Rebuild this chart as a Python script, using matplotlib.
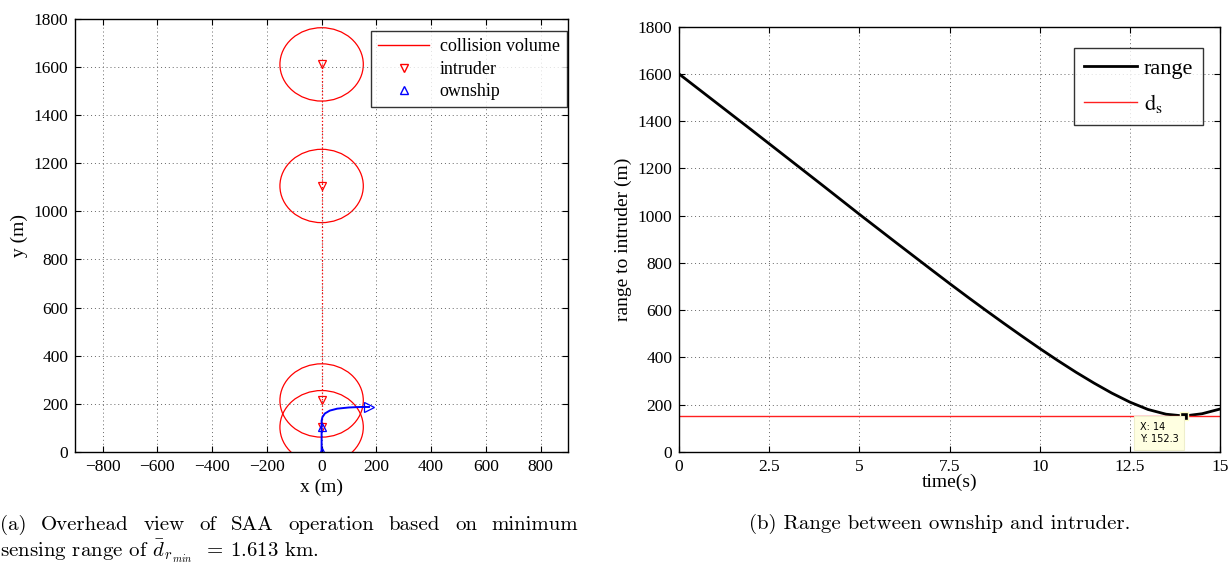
import matplotlib.pyplot as plt
from matplotlib.patches import Circle
from matplotlib.lines import Line2D

plt.rcParams['font.family'] = ['Liberation Serif', 'DejaVu Serif']
plt.rcParams['xtick.direction'] = 'in'
plt.rcParams['ytick.direction'] = 'in'

# --- (a) overhead view data ---
intruder_x = [0, 0, 0, 0]
intruder_y = [1610, 1105, 214, 103]
d_s = 152.3  # collision volume radius (m)

own_path_x = [0, 0, 0, 0, 3, 12, 30, 57, 100, 142, 173]
own_path_y = [0, 50, 103, 130, 145, 160, 172, 180, 185, 187, 187]
own_up_x = [0, 0]
own_up_y = [0, 103]
own_end_x = [173]
own_end_y = [187]

# --- (b) range vs time data ---
time_s = [0, 1, 2, 3, 4, 5, 6, 7, 7.5, 8, 8.5, 9, 9.5, 10, 10.5, 11, 11.5,
          12, 12.5, 13, 13.5, 14, 14.5, 15]
range_m = [1600, 1482, 1364, 1245, 1126, 1006, 888, 771, 713, 656, 600, 545,
           491, 438, 387, 338, 292, 249, 211, 180, 160, 152.3, 162, 182]
tip_x, tip_y = 14, 152.3

caption_a1 = '(a) Overhead view of SAA operation based on minimum'
caption_a2 = r'sensing range of $\bar{d}_{r_{\,min}}$  = 1.613 km.'
caption_b = '(b) Range between ownship and intruder.'

grid_kw = dict(linestyle=(0, (1, 3)), linewidth=0.7, color='0.4')


def matlab_axes(ax):
    ax.grid(True, **grid_kw)
    ax.tick_params(top=True, right=True, labelsize=12.5, length=4, width=0.8,
                   pad=5)
    for s in ax.spines.values():
        s.set_linewidth(1.0)


def justified_text(fig, text, x0, x1, y, **kw):
    # place words one by one so the line fills x0..x1 (figure fraction)
    words = text.split()
    r = fig.canvas.get_renderer()
    fw = fig.bbox.width
    items = []
    total = 0
    for w in words:
        t = fig.text(0, y, w, va='center', ha='left', **kw)
        width = t.get_window_extent(r).width / fw
        items.append((t, width))
        total += width
    gap = (x1 - x0 - total) / (len(words) - 1)
    x = x0
    for t, width in items:
        t.set_x(x)
        x += width + gap


fig = plt.figure(figsize=(12.28, 5.65), dpi=100)
ax1 = fig.add_axes([0.0613, 0.2, 0.4012, 0.767])
ax2 = fig.add_axes([0.553, 0.2, 0.4406, 0.7527])

# ---------- left panel ----------
for cx, cy in zip(intruder_x, intruder_y):
    ax1.add_patch(Circle((cx, cy), d_s, fill=False, ec='red', lw=0.9))
ax1.plot(intruder_x, intruder_y, ':', color='red', lw=0.9)
ax1.plot(intruder_x, intruder_y, 'v', mfc='none', mec='red', ms=6, mew=0.9)
ax1.plot(own_path_x, own_path_y, '-', color='blue', lw=1.4)
ax1.plot(own_up_x, own_up_y, '^', mfc='none', mec='blue', ms=6, mew=0.9)
ax1.plot(own_end_x, own_end_y, '>', mfc='none', mec='blue', ms=7, mew=0.9)

ax1.set_xlim(-900, 900)
ax1.set_ylim(0, 1800)
ax1.set_xticks(range(-800, 801, 200))
ax1.set_yticks(range(0, 1801, 200))
ax1.set_xlabel('x (m)', fontsize=14, labelpad=3)
ax1.set_ylabel('y (m)', fontsize=14, labelpad=4)
matlab_axes(ax1)

handles1 = [
    Line2D([], [], color='red', lw=1.0),
    Line2D([], [], ls='none', marker='v', mfc='none', mec='red', ms=6),
    Line2D([], [], ls='none', marker='^', mfc='none', mec='blue', ms=6),
]
leg1 = ax1.legend(handles1, ['collision volume', 'intruder', 'ownship'],
                  loc='upper right', bbox_to_anchor=(0.998, 0.971),
                  borderaxespad=0, fontsize=13, frameon=True, fancybox=False,
                  edgecolor='black', handlelength=2.8, labelspacing=0.3,
                  borderpad=0.4, handletextpad=0.6)
leg1.get_frame().set_linewidth(1.0)

# ---------- right panel ----------
ax2.plot(time_s, range_m, '-', color='black', lw=2.0, label='range')
ax2.axhline(d_s, color='#ff2020', lw=1.0, label=r'$\mathrm{d_s}$')
ax2.plot([tip_x], [tip_y], 's', color='black', mec='#ffffc8', ms=6, mew=1.0,
         zorder=5)
ax2.annotate(f'X: {tip_x}\nY: {tip_y}', xy=(tip_x, tip_y), xytext=(-4, -4),
             textcoords='offset points', ha='right', va='top',
             multialignment='left', fontsize=7, family='DejaVu Sans',
             linespacing=1.35,
             bbox=dict(boxstyle='square,pad=0.6', fc='#ffffe1', ec='#eeeecc',
                       lw=0.8), zorder=6)

ax2.set_xlim(0, 15)
ax2.set_ylim(0, 1800)
ax2.set_xticks([0, 2.5, 5, 7.5, 10, 12.5, 15])
ax2.set_xticklabels(['0', '2.5', '5', '7.5', '10', '12.5', '15'])
ax2.set_yticks(range(0, 1801, 200))
ax2.set_xlabel('time(s)', fontsize=14, labelpad=-1)
ax2.set_ylabel('range to intruder (m)', fontsize=14, labelpad=4)
matlab_axes(ax2)

leg2 = ax2.legend(loc='upper right', frameon=True, fancybox=False,
                  edgecolor='black', bbox_to_anchor=(0.9686, 0.95),
                  borderaxespad=0, handlelength=2.4, labelspacing=0.6,
                  borderpad=0.45, handletextpad=0.3,
                  prop=dict(size=16, math_fontfamily='stix'))
leg2.get_frame().set_linewidth(1.0)

# ---------- captions ----------
fig.canvas.draw()
justified_text(fig, caption_a1, 0.0, 0.471, 0.071, fontsize=15,
               family='cmr10')
fig.text(0.0, 0.025, caption_a2, fontsize=15, family='cmr10', ha='left',
         va='center', math_fontfamily='cm')
fig.text(0.765, 0.073, caption_b, fontsize=15, family='cmr10', ha='center',
         va='center')

fig.savefig('out.png', dpi=100)
